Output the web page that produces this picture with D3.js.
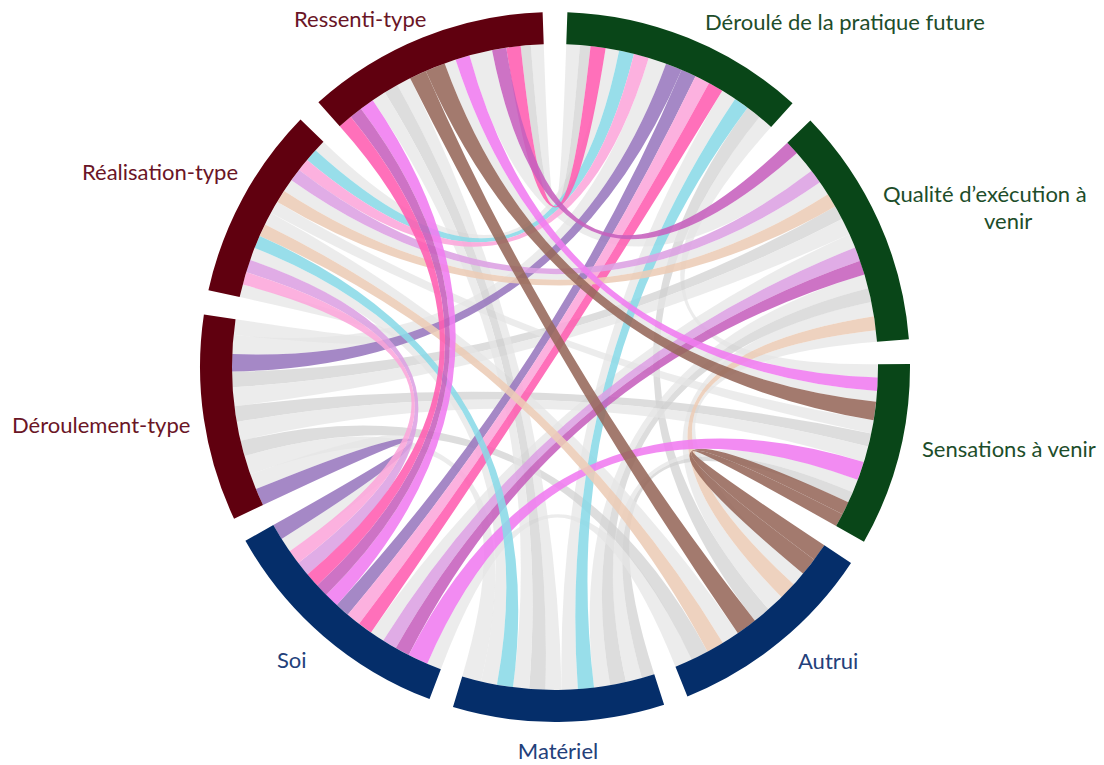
<!DOCTYPE html>
<html><head><meta charset="utf-8">
<script src="https://cdn.jsdelivr.net/npm/d3@7"></script>
<style>body{margin:0;background:#fff}svg{display:block}</style>
</head><body><svg id="c" width="1104" height="765"></svg>
<script>
// ---- data ----
const groupNames = ["Déroulé de la pratique future","Qualité d’exécution à venir","Sensations à venir","Autrui","Matériel","Soi","Déroulement-type","Réalisation-type","Ressenti-type"];
const groupFamily = ["futur","futur","futur","focus","focus","focus","passe","passe","passe"];
const groupWeights = [40, 39.5, 30, 34.6, 34.6, 40, 33.8, 31.7, 39.8];
// [group a, group b, colour key, value]
const links = [
  [0,2,"lgray",1],
  [0,3,"gray",1],
  [0,4,"lgray",1],[0,4,"cyan",1],
  [0,5,"purple",1],[0,5,"lpink",1],[0,5,"hotpink",1],
  [0,6,"lgray",1.2],[0,6,"purple",1.1],
  [0,7,"lgray",0.9],[0,7,"cyan",1],[0,7,"lpink",1],
  [0,8,"lgray",0.9],[0,8,"gray",0.7],[0,8,"hotpink",1],
  [1,3,"lgray",1],[1,3,"peach",1],[1,3,"lgray",0.8],
  [1,4,"lgray",1],[1,4,"gray",1],
  [1,5,"lgray",1],[1,5,"orchid",1],[1,5,"mediumorchid",1],
  [1,6,"gray",1],[1,6,"lgray",1.2],
  [1,7,"orchid",1],[1,7,"lgray",1],[1,7,"peach",1],
  [1,8,"mediumorchid",1],[1,8,"lgray",1.6],
  [2,3,"brown",1],[2,3,"brown",1],
  [2,4,"lgray",1],[2,4,"gray",0.8],
  [2,5,"violet",1.4],
  [2,6,"gray",1],[2,6,"lgray",1.2],
  [2,7,"lgray",1],
  [2,8,"violet",1],[2,8,"lgray",0.8],[2,8,"brown",1.4],
  [3,5,"lgray",1],
  [3,6,"gray",1],
  [3,7,"lgray",1],[3,7,"peach",1],
  [3,8,"brown",1.2],
  [4,6,"lgray",1.2],
  [4,7,"cyan",1],[4,7,"lgray",1],
  [4,8,"lgray",1],[4,8,"gray",1],[4,8,"lgray",1],
  [5,6,"lgray",1],[5,6,"purple",1.1],
  [5,7,"orchid",1],[5,7,"lpink",1],
  [5,8,"violet",1],[5,8,"mediumorchid",0.9],[5,8,"hotpink",1],
  [6,7,"lgray",1]
];

const familyColor = {passe:"#60000f", focus:"#052e6a", futur:"#094618"};
const labelColor = {passe:"#6a1526", focus:"#23407a", futur:"#1d4d2a"};
const chordColor = {
  lgray:"#e4e4e4", gray:"#d0d0d0", hotpink:"#ff5cb1", violet:"#f07bf0",
  mediumorchid:"#c660bd", orchid:"#dca0e2", lpink:"#fca6db", purple:"#9878be",
  cyan:"#8ad9e7", brown:"#96685a", peach:"#ecccb6"
};

// ---- layout ----
const cx = 555, cy = 367, rIn = 323, rOut = 355;
const n = groupNames.length;
const pad = 4 * Math.PI / 180;
const cum = d3.cumsum(groupWeights);
const total = cum[n-1];
const angle = d3.scaleLinear().domain([0, total]).range([0, 2*Math.PI - n*pad]);
const groups = groupWeights.map((w,i) => {
  const before = i ? cum[i-1] : 0;
  return {index:i, startAngle: pad/2 + i*pad + angle(before), endAngle: pad/2 + i*pad + angle(before + w)};
});

const L = links.map(([s,t,c,v],idx) => ({idx,s,t,c,v}));
const ends = d3.range(n).map(() => []);
L.forEach(l => { ends[l.s].push({idx:l.idx, other:l.t}); ends[l.t].push({idx:l.idx, other:l.s}); });
ends.forEach((arr,i) => {
  arr.sort((p,q) => {
    const rp = ((i - p.other) % n + n) % n, rq = ((i - q.other) % n + n) % n;
    if (rp !== rq) return rp - rq;
    return i < p.other ? p.idx - q.idx : q.idx - p.idx;
  });
  const sum = d3.sum(arr, e => L[e.idx].v);
  const sc = d3.scaleLinear().domain([0, sum]).range([groups[i].startAngle, groups[i].endAngle]);
  let acc = 0;
  arr.forEach(e => { const v = L[e.idx].v; e.startAngle = sc(acc); e.endAngle = sc(acc + v); acc += v;
    const l = L[e.idx]; if (l.s === i) l.srcEnd = e; else l.tgtEnd = e; });
});

const svg = d3.select("#c");
const g = svg.append("g").attr("transform", `translate(${cx},${cy})`);
const ribbon = d3.ribbon().radius(rIn);
const isGray = c => c === "lgray" || c === "gray";
const ordered = L.filter(l => isGray(l.c)).concat(L.filter(l => !isGray(l.c)));
g.append("g").selectAll("path").data(ordered).join("path")
  .attr("d", l => ribbon({source:{startAngle:l.srcEnd.startAngle,endAngle:l.srcEnd.endAngle},
                          target:{startAngle:l.tgtEnd.startAngle,endAngle:l.tgtEnd.endAngle}}))
  .attr("fill", l => chordColor[l.c])
  .attr("fill-opacity", l => isGray(l.c) ? 0.72 : 0.88);

const arc = d3.arc().innerRadius(rIn).outerRadius(rOut);
g.append("g").selectAll("path").data(groups).join("path")
  .attr("d", arc).attr("fill", d => familyColor[groupFamily[d.index]]);

// ---- labels ----
const labelPos = [
  [{t:"Déroulé de la pratique future", x:705, y:30, a:"start"}],
  [{t:"Qualité d’exécution à", x:883, y:202, a:"start"},{t:"venir", x:984, y:229, a:"start"}],
  [{t:"Sensations à venir", x:922, y:457, a:"start"}],
  [{t:"Autrui", x:798, y:669, a:"start"}],
  [{t:"Matériel", x:558, y:759, a:"middle"}],
  [{t:"Soi", x:277, y:668, a:"start"}],
  [{t:"Déroulement-type", x:12, y:433, a:"start"}],
  [{t:"Réalisation-type", x:82, y:180, a:"start"}],
  [{t:"Ressenti-type", x:294, y:27, a:"start"}]
];
labelPos.forEach((lines,i) => lines.forEach(ln => {
  svg.append("text").attr("x", ln.x).attr("y", ln.y).attr("text-anchor", ln.a)
    .attr("font-family", "Lato, 'Open Sans', sans-serif").attr("font-size", 22)
    .attr("fill", labelColor[groupFamily[i]]).text(ln.t);
}));
</script></body></html>
